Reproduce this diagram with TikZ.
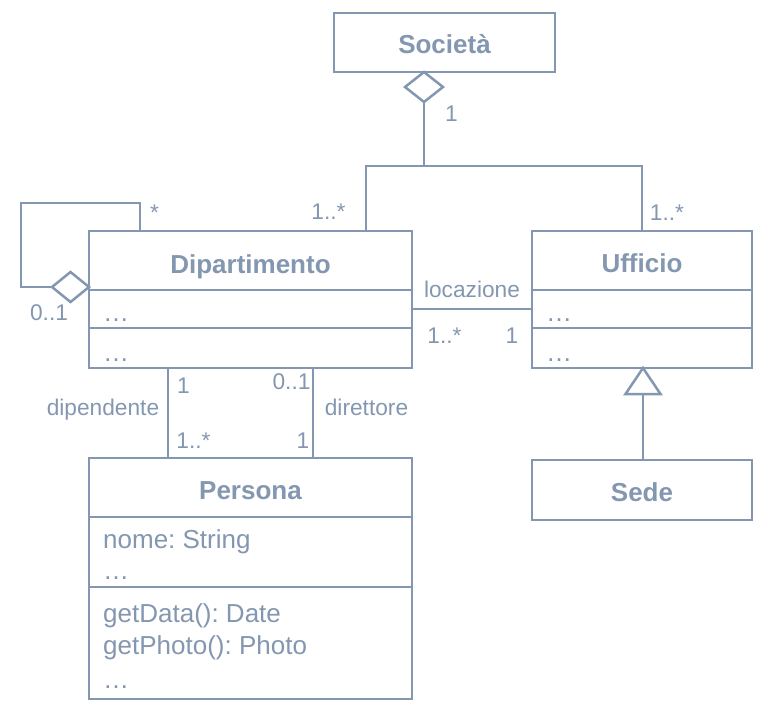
\documentclass[tikz,border=0pt]{standalone}
\usepackage{fontspec}
\setmainfont{Liberation Sans}
\definecolor{uml}{HTML}{8497B0}
\begin{document}
\frenchspacing
\begin{tikzpicture}[x=1pt,y=-1pt,
  cls/.style={draw=uml, line width=2.5pt, fill=white, inner sep=0pt, outer sep=0pt},
  conn/.style={draw=uml, line width=2.5pt},
  ttl/.style={font=\fontsize{26}{31}\selectfont\bfseries, text=uml, anchor=base, inner sep=0pt},
  attr/.style={font=\fontsize{26}{31}\selectfont, text=uml, anchor=base west, inner sep=0pt},
  lbl/.style={font=\fontsize{22.7}{27}\selectfont, text=uml, anchor=base, inner sep=0pt}]
\useasboundingbox (0,0) rectangle (774,707);
% classes
\node[cls, minimum width=221pt, minimum height=59pt] (soc) at (444.5,42.5) {};
\node[cls, minimum width=323pt, minimum height=137pt] (dip) at (250.5,299.5) {};
\node[cls, minimum width=220pt, minimum height=137pt] (uff) at (642,299.5) {};
\node[cls, minimum width=220pt, minimum height=60pt] (sede) at (642,490) {};
\node[cls, minimum width=323pt, minimum height=241pt] (per) at (250.5,578.5) {};
% compartments
\draw[conn] (dip.west |- 0,290) -- (dip.east |- 0,290);
\draw[conn] (dip.west |- 0,328) -- (dip.east |- 0,328);
\draw[conn] (uff.west |- 0,290) -- (uff.east |- 0,290);
\draw[conn] (uff.west |- 0,328) -- (uff.east |- 0,328);
\draw[conn] (per.west |- 0,517) -- (per.east |- 0,517);
\draw[conn] (per.west |- 0,587) -- (per.east |- 0,587);
% texts
\node[ttl] (tsoc) at (444.5,53) {Società};
\node[ttl] (tdip) at (250.5,273) {Dipartimento};
\node[ttl] (tuff) at (642,272) {Ufficio};
\node[ttl] (tsede) at (642,501) {Sede};
\node[ttl] (tper) at (250.5,499) {Persona};
\node[attr] (da1) at (103,321) {…};
\node[attr] (da2) at (103,361) {…};
\node[attr] (ua1) at (546,321) {…};
\node[attr] (ua2) at (546,361) {…};
\node[attr] (pa1) at (103,548) {nome: String};
\node[attr] (pa2) at (103,579) {…};
\node[attr] (pm1) at (103,622) {getData(): Date};
\node[attr] (pm2) at (103,654) {getPhoto(): Photo};
\node[attr] (pm3) at (103,688) {…};
% aggregation Societa
\coordinate (dsTop) at (soc.south -| 424,0);
\coordinate (dsBot) at (424,102);
\coordinate (jn) at (424,166);
\coordinate (dipA) at (dip.north -| 366,0);
\draw[conn] (dsBot) -- (jn);
\draw[conn] (jn) -| (dipA);
\draw[conn] (jn) -| (uff.north);
\draw[conn, fill=white, line join=miter] (dsTop) -- (443,87) -- (dsBot) -- (405,87) -- cycle;
% self aggregation
\coordinate (dipB) at (dip.north -| 140,0);
\coordinate (ddE) at (dip.west |- 0,287);
\coordinate (ddW) at (52,287);
\draw[conn] (dipB) -- (140,203) -- (21,203) -- (21,287) -- (ddW);
\draw[conn, fill=white] (ddE) -- (70.5,272) -- (ddW) -- (70.5,302) -- cycle;
% locazione
\draw[conn] (dip.east |- 0,309) -- (uff.west |- 0,309);
% dipendente / direttore
\draw[conn] (dip.south -| 168,0) -- (per.north -| 168,0);
\draw[conn] (dip.south -| 313,0) -- (per.north -| 313,0);
% generalization
\coordinate (triB) at (643,394);
\draw[conn] (sede.north -| triB) -- (triB);
\draw[conn, fill=white] (uff.south -| triB) -- (660.5,394) -- (625.5,394) -- cycle;
% labels
\node[lbl] (l1) at (451.5,121) {1};
\node[lbl] (l2) at (667,220) {1..*};
\node[lbl] (l3) at (328.5,219) {1..*};
\node[lbl] (l4) at (154.5,220) {*};
\node[lbl] (l5) at (49,320) {0..1};
\node[lbl] (l6) at (472,297) {locazione};
\node[lbl] (l7) at (444.5,343) {1..*};
\node[lbl] (l8) at (512,343) {1};
\node[lbl] (l9) at (183.5,393) {1};
\node[lbl] (l10) at (291.5,389) {0..1};
\node[lbl] (l11) at (103,415) {dipendente};
\node[lbl] (l12) at (366.5,415) {direttore};
\node[lbl] (l13) at (193.5,448) {1..*};
\node[lbl] (l14) at (303,448) {1};
\end{tikzpicture}
\end{document}
